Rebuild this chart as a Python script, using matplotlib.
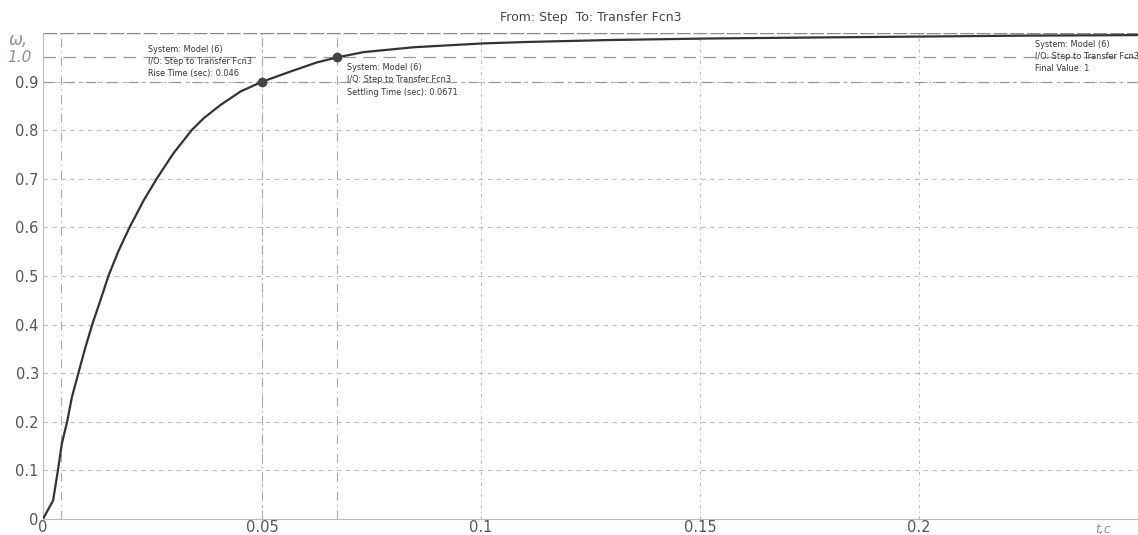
import matplotlib.pyplot as plt

# step response
t = [0, 0.0023, 0.0034, 0.0043, 0.0055, 0.0066, 0.0081, 0.0097, 0.0113,
     0.0131, 0.015, 0.0173, 0.0198, 0.023, 0.026, 0.0298, 0.034, 0.0367,
     0.0405, 0.0451, 0.05, 0.0565, 0.0626, 0.0671, 0.0732, 0.0846,
     0.1006, 0.111, 0.13, 0.1516, 0.175, 0.2, 0.225, 0.25]
w = [0, 0.038, 0.10, 0.155, 0.20, 0.251, 0.301, 0.354, 0.402,
     0.45, 0.502, 0.553, 0.601, 0.656, 0.701, 0.753, 0.801, 0.825,
     0.852, 0.88, 0.90, 0.921, 0.94, 0.95, 0.961, 0.971,
     0.979, 0.982, 0.986, 0.989, 0.991, 0.993, 0.995, 0.996]

x_ticks = [0, 0.05, 0.1, 0.15, 0.2]
x_tick_labels = ['0', '0.05', '0.1', '0.15', '0.2']
y_ticks = [0, 0.1, 0.2, 0.3, 0.4, 0.5, 0.6, 0.7, 0.8, 0.9]
y_tick_labels = ['0', '0.1', '0.2', '0.3', '0.4', '0.5', '0.6', '0.7', '0.8', '0.9']

t_10 = 0.004
rise_time = 0.046
settling_time = 0.0671
settling_level = 0.95
final_value = 1

fig = plt.figure(figsize=(11.38, 5.35), dpi=100)
ax = fig.add_axes([0.0378, 0.030, 0.9622, 0.908])

# grid
for yv in y_ticks[1:]:
    ax.axhline(yv, color='#bbbbbb', lw=0.8, ls=(0, (4, 4)), zorder=1)
for xv in x_ticks[1:]:
    ax.axvline(xv, color='#bbbbbb', lw=0.8, ls=(0, (3, 3, 1, 3)), zorder=1)

# rise / settling time guide lines
ax.axvline(t_10, color='#aaaaaa', lw=0.8, ls=(0, (8, 4, 1, 4)), zorder=1)
ax.axvline(t_10 + rise_time, color='#aaaaaa', lw=0.8, ls=(0, (8, 4, 1, 4)), zorder=1)
ax.axvline(settling_time, color='#aaaaaa', lw=0.8, ls=(0, (8, 4, 1, 4)), zorder=1)
ax.axhline(0.9, color='#999999', lw=0.9, ls=(0, (8, 4, 1, 4)), zorder=1)
ax.axhline(settling_level, color='#999999', lw=0.9, ls=(0, (10, 6)), zorder=1)
ax.axhline(final_value, color='#888888', lw=1.0, ls=(0, (10, 2)), zorder=1)

ax.plot(t, w, color='#333333', lw=1.6, zorder=3)
ax.plot([t_10 + rise_time, settling_time], [0.9, settling_level], 'o',
        color='#444444', ms=6, zorder=4)

ax.set_xlim(0, 0.25)
ax.set_ylim(0, 1.0)
ax.set_xticks(x_ticks)
ax.set_xticklabels(x_tick_labels)
ax.set_yticks(y_ticks)
ax.set_yticklabels(y_tick_labels)
ax.tick_params(axis='both', length=0, labelsize=10.5, labelcolor='#555555', pad=3)
ax.tick_params(axis='x', pad=1)

ax.spines['right'].set_visible(False)
ax.spines['top'].set_visible(False)
ax.spines['left'].set_color('#bbbbbb')
ax.spines['left'].set_linestyle((0, (1, 1)))
ax.spines['bottom'].set_color('#bbbbbb')

ax.set_title('From: Step  To: Transfer Fcn3', fontsize=9, color='#444444', pad=9)

note_kw = dict(fontsize=5.9, color='#333333', linespacing=1.45, va='top', ha='left')
ax.text(0.0240, 0.976, 'System: Model (6)\nI/O: Step to Transfer Fcn3\nRise Time (sec): 0.046', **note_kw)
ax.text(0.0695, 0.938, 'System: Model (6)\nI/O: Step to Transfer Fcn3\nSettling Time (sec): 0.0671', **note_kw)
ax.text(0.2265, 0.986, 'System: Model (6)\nI/O: Step to Transfer Fcn3\nFinal Value: 1', **note_kw)

# handwritten notes on the scan
fig.text(0.008, 0.915, 'ω,', fontsize=12, color='#8a8fa0', style='italic')
fig.text(0.006, 0.885, '1.0', fontsize=11, color='#8a8fa0', style='italic')
fig.text(0.962, 0.003, 't,c', fontsize=9, color='#8a8fa0', style='italic')

fig.savefig('out.png', dpi=100)
